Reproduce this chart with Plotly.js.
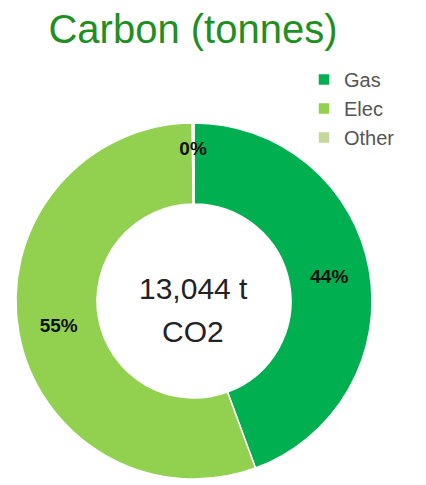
<!DOCTYPE html>
<html>
<head>
<meta charset="utf-8">
<script src="https://cdn.plot.ly/plotly-3.0.1.min.js"></script>
<style>html,body{margin:0;padding:0;background:#fff;}#chart{width:426px;height:485px;}</style>
</head>
<body>
<div id="chart"></div>
<script>
const categories = ["Gas", "Elec", "Other"];
const values = [5790, 7234, 20];
const sliceColors = ["#00b050", "#92d050", "#c4d89c"];
const titleText = "Carbon (tonnes)";
const centerLine1 = "13,044 t";
const centerLine2 = "CO2";

const pctTemplate = "<b>%{percent:.0%}</b>";

const trace = {
  type: "pie",
  labels: categories,
  values: values,
  hole: 0.545,
  sort: false,
  direction: "clockwise",
  rotation: 0,
  marker: { colors: sliceColors, line: { color: "#ffffff", width: 1.5 } },
  textinfo: "percent",
  texttemplate: [pctTemplate, pctTemplate, " <br> <br>" + pctTemplate],
  textposition: "inside",
  insidetextorientation: "horizontal",
  textfont: { family: "Liberation Sans, Arial, sans-serif", size: 19, color: "#111111" },
  domain: { x: [16/426, 372/426], y: [1 - 480/485, 1 - 122/485] },
  hoverinfo: "label+value+percent"
};

const layout = {
  width: 426,
  height: 485,
  margin: { l: 0, r: 0, t: 0, b: 0 },
  paper_bgcolor: "#ffffff",
  plot_bgcolor: "#ffffff",
  title: {
    text: titleText,
    font: { family: "Liberation Sans, Arial, sans-serif", size: 40, color: "#1f8f23" },
    x: 193/426, xanchor: "center", xref: "paper",
    y: 1 - 29/485, yanchor: "middle", yref: "container"
  },
  uniformtext: { mode: "show", minsize: 19 },
  showlegend: true,
  legend: {
    x: 304/426, y: 1 - 60/485, xanchor: "left", yanchor: "top",
    font: { family: "Liberation Sans, Arial, sans-serif", size: 20, color: "#555555" },
    bgcolor: "rgba(0,0,0,0)",
    traceorder: "normal"
  },
  annotations: [
    { text: centerLine1, x: 193/426, y: 1 - 288/485, xref: "paper", yref: "paper",
      xanchor: "center", yanchor: "middle", showarrow: false,
      font: { family: "Liberation Sans, Arial, sans-serif", size: 30, color: "#222222" } },
    { text: centerLine2, x: 193/426, y: 1 - 331/485, xref: "paper", yref: "paper",
      xanchor: "center", yanchor: "middle", showarrow: false,
      font: { family: "Liberation Sans, Arial, sans-serif", size: 30, color: "#222222" } }
  ]
};

Plotly.newPlot("chart", [trace], layout, { displayModeBar: false, staticPlot: true });
</script>
</body>
</html>
